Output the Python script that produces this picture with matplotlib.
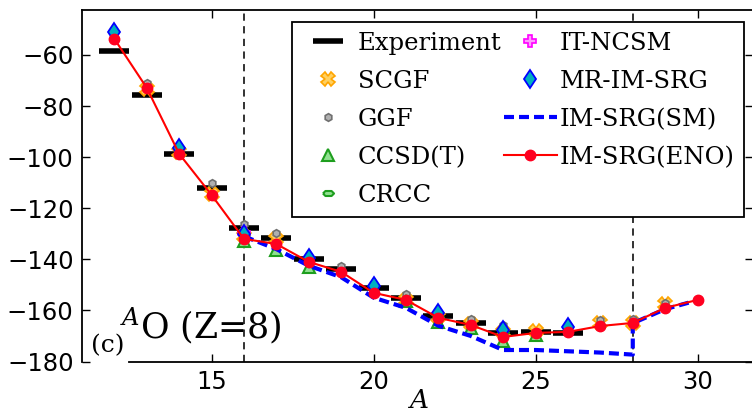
import matplotlib
matplotlib.use("Agg")
import matplotlib.pyplot as plt

plt.rcParams["mathtext.fontset"] = "dejavuserif"

# Ground-state energies of oxygen isotopes (MeV)
A_exp = [12, 13, 14, 15, 16, 17, 18, 19, 20, 21, 22, 23, 24, 25, 26]
E_exp = [-58.5, -75.6, -98.7, -112.0, -127.6, -131.8, -139.8, -143.8, -151.4,
         -155.2, -162.0, -164.8, -169.0, -168.6, -169.0]

A_scgf = [13, 14, 15, 16, 17, 21, 22, 23, 24, 25, 27, 28, 29]
E_scgf = [-73.5, -98.0, -114.5, -131.0, -132.0, -156.0, -162.5, -165.5,
          -168.5, -168.0, -165.0, -165.0, -157.5]

A_ggf = [13, 15, 16, 17, 19, 21, 23, 24, 27, 28, 29]
E_ggf = [-71.0, -110.3, -126.0, -129.7, -142.5, -153.5, -163.5, -165.7,
         -163.8, -163.3, -157.0]

A_ccsdt = [16, 17, 18, 21, 22, 23, 24, 25]
E_ccsdt = [-133.0, -136.3, -143.2, -156.5, -164.5, -166.8, -172.0, -169.8]

A_crcc = [16, 22, 24]
E_crcc = [-130.5, -162.5, -168.5]

A_itncsm = [16]
E_itncsm = [-129.5]

A_mr = [12, 14, 16, 18, 20, 22, 24, 26]
E_mr = [-51.0, -96.5, -130.0, -139.5, -150.5, -161.0, -167.5, -166.5]

A_sm = [16, 17, 18, 19, 20, 21, 22, 23, 24, 25, 26, 27, 28, 28, 29, 30]
E_sm = [-131.0, -136.0, -142.5, -147.0, -155.0, -159.0, -166.0, -170.0,
        -175.5, -175.5, -176.0, -176.5, -177.3, -165.0, -159.5, -156.0]

A_eno = [12, 13, 14, 15, 16, 17, 18, 19, 20, 21, 22, 23, 24, 25, 26, 27, 28, 29, 30]
E_eno = [-53.7, -72.9, -98.7, -114.8, -132.0, -134.0, -141.0, -144.9, -153.1,
         -155.9, -162.9, -165.7, -170.4, -168.8, -168.4, -166.1, -164.9,
         -159.0, -155.9]

shell_closures = [16, 28]

fig = plt.figure(figsize=(7.52, 4.15), dpi=100)
ax = fig.add_axes([0.1090, 0.1289, 0.8923, 0.8470])

for a in shell_closures:
    ax.axvline(a, color="#222222", ls=(0, (4, 3)), lw=1.3, zorder=1)

ax.plot(A_exp, E_exp, ls="none", marker="_", ms=22, mew=4, color="black",
        label="Experiment", zorder=3)
ax.plot(A_scgf, E_scgf, ls="none", marker="X", ms=9.5, mfc="#FFD060",
        mec="#FFA500", mew=1.2, label="SCGF", zorder=4)
ax.plot(A_ggf, E_ggf, ls="none", marker="h", ms=5.5, mfc="#B0B0B0",
        mec="#707070", mew=1.2, label="GGF", zorder=4)
ax.plot(A_ccsdt, E_ccsdt, ls="none", marker="^", ms=8.5, mfc="#90E090",
        mec="#1E9E1E", mew=1.5, label="CCSD(T)", zorder=4)
crcc_marker = [(-1, 0), (-0.55, 0.45), (0.55, 0.45), (1, 0), (0.55, -0.45),
               (-0.55, -0.45), (-1, 0)]
ax.plot(A_crcc, E_crcc, ls="none", marker=crcc_marker, ms=8, mfc="#90E090",
        mec="#1E9E1E", mew=1.5, label="CRCC", zorder=4)
ax.plot(A_itncsm, E_itncsm, ls="none", marker="P", ms=8.5, mfc="#FF99FF",
        mec="#FF00FF", mew=1.2, label="IT-NCSM", zorder=5)
ax.plot(A_mr, E_mr, ls="none", marker="d", ms=9.5, mfc="#00B0C0",
        mec="#0000FF", mew=1.3, label="MR-IM-SRG", zorder=5)
ax.plot(A_sm, E_sm, color="#0000FF", lw=3, dashes=(2.4, 1.2),
        label="IM-SRG(SM)", zorder=5)
ax.plot(A_eno, E_eno, color="#FF0000", lw=1.5, marker="o", ms=7.5,
        mfc="#FF0020", mec="#FF0020", label="IM-SRG(ENO)", zorder=6)

ax.set_xlim(11, 31.71)
ax.set_ylim(-180, -42.4)
ax.set_xticks([15, 20, 25, 30])
ax.set_yticks([-180, -160, -140, -120, -100, -80, -60])
ax.tick_params(direction="in", top=True, right=True, length=6, width=1,
               labelsize=17.5, pad=6)
for sp in ax.spines.values():
    sp.set_linewidth(1.3)
ax.spines["bottom"].set_bounds(12.45, 31.71)

ax.set_xlabel("$A$", fontsize=19, labelpad=-4)

ax.text(0.014, 0.012, "(c)", transform=ax.transAxes, fontsize=18,
        family="DejaVu Serif", ha="left", va="bottom")
ax.text(0.056, 0.045, "$^{A}$O (Z=8)", transform=ax.transAxes, fontsize=25,
        family="DejaVu Serif", ha="left", va="bottom")

leg = ax.legend(ncol=2, loc="upper right", bbox_to_anchor=(0.987, 0.966),
                prop={"family": "DejaVu Serif", "size": 17.5}, numpoints=1,
                fancybox=False, edgecolor="black", framealpha=1,
                handlelength=2.2, handletextpad=0.1, columnspacing=0.1,
                labelspacing=0.62, borderpad=0.4, borderaxespad=0)
leg.get_frame().set_linewidth(1.3)

fig.savefig("out.png", dpi=100)
